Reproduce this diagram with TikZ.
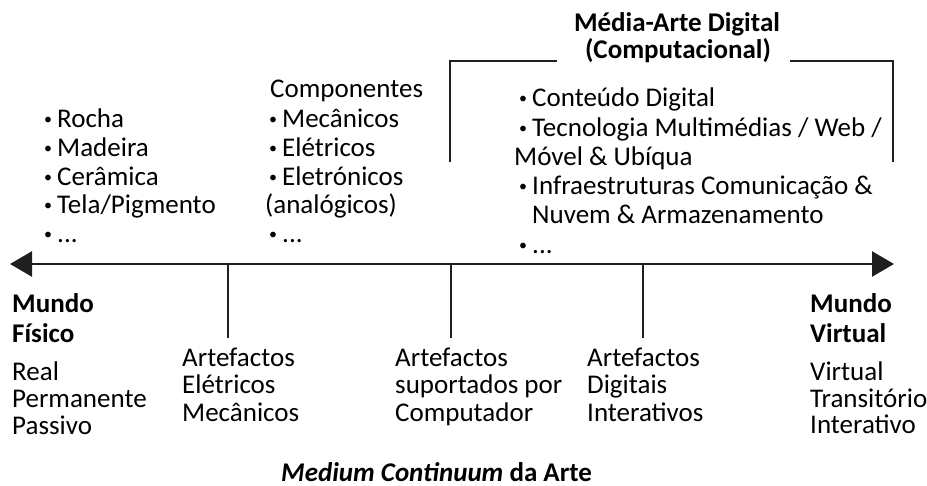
\documentclass[tikz,border=0pt]{standalone}
\usepackage{fontspec}
\setmainfont{Carlito}
\usetikzlibrary{arrows.meta}
\newcommand\bul{\llap{\raisebox{3.5pt}{\fontsize{16}{16}\selectfont •}\hspace{5pt}}}
\begin{document}
\begin{tikzpicture}[x=1pt,y=-1pt,
  txt/.style={anchor=base west,inner sep=0pt,font=\fontsize{27}{30}\selectfont},
  btxt/.style={anchor=base west,inner sep=0pt,font=\fontsize{27}{30}\selectfont\bfseries},
  ctxt/.style={anchor=base,inner sep=0pt,font=\fontsize{27}{30}\selectfont\bfseries},
  axisline/.style={line width=2.5pt,draw=black!88,{Triangle[length=22pt,width=25pt]}-{Triangle[length=22pt,width=25pt]}},
  tickline/.style={line width=2pt,draw=black!88},
  brk/.style={line width=2pt,draw=black!88}]
\useasboundingbox (0,0) rectangle (927,486);
% axis
\coordinate (L) at (10,264);
\coordinate (R) at (894,264);
\draw[axisline] (L) -- (R);
% ticks
\coordinate (t1a) at (228,264); \coordinate (t1b) at (228,338);
\coordinate (t2a) at (451,264); \coordinate (t2b) at (451,338);
\coordinate (t3a) at (643,264); \coordinate (t3b) at (643,338);
\draw[tickline] (t1a) -- (t1b);
\draw[tickline] (t2a) -- (t2b);
\draw[tickline] (t3a) -- (t3b);
% bracket
\coordinate (b1) at (450,162); \coordinate (b2) at (450,61); \coordinate (b3) at (557,61);
\coordinate (b4) at (790,61); \coordinate (b5) at (893,61); \coordinate (b6) at (893,162);
\draw[brk] (b1) -- (b2) -- (b3);
\draw[brk] (b4) -- (b5) -- (b6);
% top title
\node[ctxt] (mad1) at (677,32) {Média-Arte Digital};
\node[ctxt] (mad2) at (678,59) {(Computacional)};
% left list
\node[txt] (l1) at (57,128) {\bul Rocha};
\node[txt] (l2) at (57,157) {\bul Madeira};
\node[txt] (l3) at (57,186) {\bul Cerâmica};
\node[txt] (l4) at (57,214) {\bul Tela/Pigmento};
\node[txt] (l5) at (57,243) {\bul ...};
% middle list
\node[txt] (m0) at (270,98) {Componentes};
\node[txt] (m1) at (282,128) {\bul Mecânicos};
\node[txt] (m2) at (282,157) {\bul Elétricos};
\node[txt] (m3) at (282,186) {\bul Eletrónicos};
\node[txt] (m4) at (265,214) {(analógicos)};
\node[txt] (m5) at (282,243) {\bul ...};
% right list
\node[txt] (r1) at (532,107) {\bul Conteúdo Digital};
\node[txt] (r2) at (532,137) {\bul Tecnologia Multimédias / Web /};
\node[txt] (r3) at (514,166) {Móvel \& Ubíqua};
\node[txt] (r4) at (532,195) {\bul Infraestruturas Comunicação \&};
\node[txt] (r5) at (532,224) {Nuvem \& Armazenamento};
\node[txt] (r6) at (532,254) {\bul ...};
% bottom left
\node[btxt] (mf1) at (12,313) {Mundo};
\node[btxt] (mf2) at (12,343) {Físico};
\node[txt] (mf3) at (12,381) {Real};
\node[txt] (mf4) at (12,408) {Permanente};
\node[txt] (mf5) at (12,435) {Passivo};
% tick labels
\node[txt] (a1) at (182,367) {Artefactos};
\node[txt] (a2) at (182,394) {Elétricos};
\node[txt] (a3) at (182,421) {Mecânicos};
\node[txt] (c1) at (395,367) {Artefactos};
\node[txt] (c2) at (395,394) {suportados por};
\node[txt] (c3) at (395,421) {Computador};
\node[txt] (d1) at (587,367) {Artefactos};
\node[txt] (d2) at (587,394) {Digitais};
\node[txt] (d3) at (587,421) {Interativos};
% bottom right
\node[btxt] (mv1) at (810,313) {Mundo};
\node[btxt] (mv2) at (810,343) {Virtual};
\node[txt] (mv3) at (810,381) {Virtual};
\node[txt] (mv4) at (810,407) {Transitório};
\node[txt] (mv5) at (810,433) {Interativo};
% caption
\node[ctxt, anchor=base west] (cap) at (281,481) {\textit{Medium Continuum} da Arte};
\end{tikzpicture}
\end{document}
